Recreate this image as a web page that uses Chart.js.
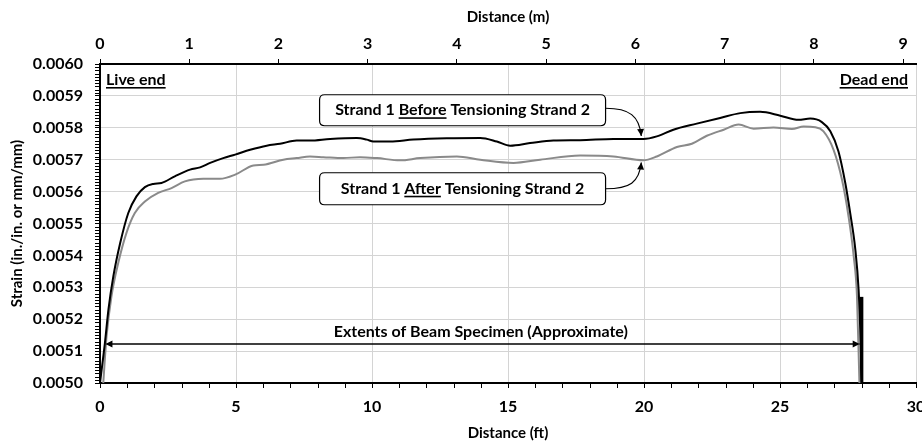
<!DOCTYPE html>
<html>
<head>
<meta charset="utf-8">
<script src="https://cdn.jsdelivr.net/npm/chart.js@4.4.1/dist/chart.umd.min.js"></script>
<style>
  html, body { margin: 0; padding: 0; background: #fff; }
  #wrap { width: 922px; height: 443px; }
</style>
</head>
<body>
<div id="wrap"><canvas id="strainChart"></canvas></div>
<script>
// Strand 1 strain along the beam, before tensioning strand 2
const beforeFt = [0, 0.18, 0.31, 0.49, 0.74, 1.04, 1.34, 1.65, 1.96, 2.26, 2.75, 3.31, 3.68, 4.05, 4.53, 4.97,
  5.52, 6.13, 6.62, 7.23, 7.72, 8.46, 9.44, 9.81, 10.05, 10.67, 11.52, 12.75, 13.98, 14.59, 15.08, 15.81,
  16.67, 17.65, 18.88, 19.98, 20.47, 21.08, 21.94, 22.8, 23.54, 24.27, 25.01, 25.68, 26.11, 26.54, 26.85,
  27.15, 27.4, 27.58, 27.77, 27.89, 27.95, 28.01];
const beforeStrain = [0.00500, 0.005125, 0.00523, 0.005334, 0.005438, 0.005533, 0.005585, 0.005614, 0.005624,
  0.005627, 0.005648, 0.005669, 0.005676, 0.00569, 0.005705, 0.005716, 0.005731, 0.005744, 0.00575, 0.00576,
  0.00576, 0.005765, 0.005768, 0.005763, 0.005757, 0.005757, 0.005763, 0.005767, 0.005768, 0.005757, 0.005744,
  0.005752, 0.00576, 0.005761, 0.005765, 0.005765, 0.005773, 0.005794, 0.005813, 0.005831, 0.005846, 0.00585,
  0.005838, 0.005825, 0.005829, 0.005818, 0.005789, 0.005726, 0.005627, 0.005533, 0.005418, 0.005292,
  0.005167, 0.00500];

// Strand 1 strain after tensioning strand 2
const afterFt = [0.12, 0.24, 0.42, 0.67, 0.97, 1.28, 1.65, 2.14, 2.63, 3.12, 3.8, 4.41, 4.97, 5.64, 6.01, 6.74,
  7.23, 7.72, 8.21, 8.95, 9.56, 10.18, 11.03, 11.77, 13.12, 13.98, 15.2, 16.18, 17.65, 18.88, 19.98, 20.47,
  21.21, 21.76, 22.31, 22.93, 23.48, 24.03, 24.76, 25.44, 25.87, 26.3, 26.6, 26.97, 27.28, 27.52, 27.71,
  27.83, 27.92];
const afterStrain = [0.00500, 0.005146, 0.005271, 0.005376, 0.00547, 0.005533, 0.005569, 0.005596, 0.005611,
  0.005632, 0.00564, 0.00564, 0.005653, 0.005682, 0.005684, 0.0057, 0.005705, 0.00571, 0.005708, 0.005705,
  0.005708, 0.005705, 0.005698, 0.005705, 0.00571, 0.0057, 0.00569, 0.0057, 0.005713, 0.00571, 0.005698,
  0.00571, 0.00574, 0.00575, 0.005775, 0.005794, 0.00581, 0.005797, 0.005801, 0.005796, 0.005804, 0.005802,
  0.005789, 0.005731, 0.005637, 0.005522, 0.005397, 0.005272, 0.00500];

// approximate length of the beam specimen, and the marker at its dead end
const extentsFt = [0.2, 27.93];
const extentsStrain = [0.005122, 0.005122];
const endBarFt = [28.0, 28.0];
const endBarStrain = [0.00500, 0.00527];

const FT_TO_M = 0.3048;
const FONT = 'Lato, "Open Sans", sans-serif';
const NOTE_FONT = 'bold 16px ' + FONT;

function toPoints(xs, ys) {
  return xs.map((x, i) => ({ x: x, y: ys[i] }));
}

function interp(xs, ys, x) {
  for (let i = 1; i < xs.length; i++) {
    if (x <= xs[i]) {
      const t = (x - xs[i - 1]) / (xs[i] - xs[i - 1]);
      return ys[i - 1] + t * (ys[i] - ys[i - 1]);
    }
  }
  return ys[ys.length - 1];
}

function arrowHead(ctx, x, y, angle, len, half) {
  ctx.save();
  ctx.translate(x, y);
  ctx.rotate(angle);
  ctx.beginPath();
  ctx.moveTo(0, 0);
  ctx.lineTo(-len, -half);
  ctx.lineTo(-len, half);
  ctx.closePath();
  ctx.fill();
  ctx.restore();
}

// text made of pieces, some of them underlined, centred on cx
function richText(ctx, parts, cx, cy) {
  const widths = parts.map(p => ctx.measureText(p.t).width);
  const total = widths.reduce((a, b) => a + b, 0);
  let x = cx - total / 2;
  ctx.textAlign = 'left';
  ctx.textBaseline = 'middle';
  parts.forEach((p, i) => {
    ctx.fillText(p.t, x, cy);
    if (p.u) ctx.fillRect(x, cy + 7, widths[i], 1.6);
    x += widths[i];
  });
}

function roundRect(ctx, x, y, w, h, r) {
  ctx.beginPath();
  ctx.moveTo(x + r, y);
  ctx.lineTo(x + w - r, y);
  ctx.quadraticCurveTo(x + w, y, x + w, y + r);
  ctx.lineTo(x + w, y + h - r);
  ctx.quadraticCurveTo(x + w, y + h, x + w - r, y + h);
  ctx.lineTo(x + r, y + h);
  ctx.quadraticCurveTo(x, y + h, x, y + h - r);
  ctx.lineTo(x, y + r);
  ctx.quadraticCurveTo(x, y, x + r, y);
  ctx.closePath();
}

// minor ticks, end labels, callouts and the extents arrow
const extrasPlugin = {
  id: 'extras',
  afterDatasetsDraw(chart) {
    const ctx = chart.ctx;
    const xs = chart.scales.x;
    const ys = chart.scales.y;
    const area = chart.chartArea;

    ctx.save();
    ctx.fillStyle = '#000';
    ctx.strokeStyle = '#000';

    // minor ticks
    ctx.lineWidth = 1;
    ctx.beginPath();
    for (let i = 0; i <= 100; i++) {
      if (i % 10 === 0) continue;
      const py = Math.round(ys.getPixelForValue(0.005 + i * 0.00001)) + 0.5;
      ctx.moveTo(area.left - 5, py);
      ctx.lineTo(area.left, py);
    }
    for (let f = 1; f < 30; f++) {
      if (f % 5 === 0) continue;
      const px = Math.round(xs.getPixelForValue(f)) + 0.5;
      ctx.moveTo(px, area.bottom);
      ctx.lineTo(px, area.bottom + 5);
    }
    ctx.stroke();

    ctx.font = NOTE_FONT;
    richText(ctx, [{ t: 'Live end', u: true }], area.left + 6 + ctx.measureText('Live end').width / 2, area.top + 16);
    richText(ctx, [{ t: 'Dead end', u: true }], area.right - 8 - ctx.measureText('Dead end').width / 2, area.top + 16);

    // extents arrow heads at both ends of the extents line
    const ext = chart.getDatasetMeta(2).data;
    arrowHead(ctx, ext[0].x, ext[0].y, Math.PI, 7, 3.5);
    arrowHead(ctx, ext[1].x, ext[1].y, 0, 7, 3.5);
    richText(ctx, [{ t: 'Extents of Beam Specimen (Approximate)' }], xs.getPixelForValue(14.0), ext[0].y - 12);

    // callout boxes pointing at the two curves near 20 ft
    const callouts = [
      { cx: 13.33, cy: 0.005855, h: 31, dy: -2, parts: [{ t: 'Strand 1 ' }, { t: 'Before', u: true }, { t: ' Tensioning Strand 2' }],
        tipFt: 19.9, tipStrain: interp(beforeFt, beforeStrain, 19.9), tipOff: -3, bend: -1 },
      { cx: 13.33, cy: 0.005609, h: 32, dy: 0, parts: [{ t: 'Strand 1 ' }, { t: 'After', u: true }, { t: ' Tensioning Strand 2' }],
        tipFt: 19.9, tipStrain: interp(afterFt, afterStrain, 19.9), tipOff: 2.5, bend: 1 }
    ];
    callouts.forEach(c => {
      const w = 286;
      const cx = xs.getPixelForValue(c.cx);
      const cy = ys.getPixelForValue(c.cy);
      ctx.fillStyle = '#fff';
      ctx.strokeStyle = '#000';
      ctx.lineWidth = 1.2;
      roundRect(ctx, cx - w / 2, cy - c.h / 2, w, c.h, 5);
      ctx.fill();
      ctx.stroke();
      ctx.fillStyle = '#000';
      ctx.font = NOTE_FONT;
      richText(ctx, c.parts, cx, cy);

      const sx = cx + w / 2;
      const sy = cy + c.dy;
      const ex = xs.getPixelForValue(c.tipFt);
      const ey = ys.getPixelForValue(c.tipStrain) + c.tipOff;
      const c2x = ex - 2;
      const c2y = ey + c.bend * 20;
      ctx.lineWidth = 1.2;
      ctx.beginPath();
      ctx.moveTo(sx, sy);
      ctx.bezierCurveTo(sx + 24, sy, c2x, c2y, ex, ey);
      ctx.stroke();
      arrowHead(ctx, ex, ey, Math.atan2(ey - c2y, ex - c2x), 7, 3.5);
    });

    ctx.restore();
  }
};

const tickFont = { family: FONT, size: 16, weight: 'bold' };
const titleFont = { family: FONT, size: 15, weight: 'bold' };

new Chart(document.getElementById('strainChart'), {
  type: 'line',
  data: {
    datasets: [
      {
        label: 'Strand 1 Before Tensioning Strand 2',
        data: toPoints(beforeFt, beforeStrain),
        borderColor: '#000',
        borderWidth: 2,
        pointRadius: 0,
        cubicInterpolationMode: 'monotone'
      },
      {
        label: 'Strand 1 After Tensioning Strand 2',
        data: toPoints(afterFt, afterStrain),
        borderColor: '#8a8a8a',
        borderWidth: 2,
        pointRadius: 0,
        cubicInterpolationMode: 'monotone'
      },
      {
        label: 'Extents of Beam Specimen',
        data: toPoints(extentsFt, extentsStrain),
        borderColor: '#000',
        borderWidth: 1.5,
        pointRadius: 0
      },
      {
        label: 'Dead end',
        data: toPoints(endBarFt, endBarStrain),
        borderColor: '#000',
        borderWidth: 3.5,
        pointRadius: 0
      }
    ]
  },
  options: {
    responsive: true,
    maintainAspectRatio: false,
    animation: false,
    layout: { padding: { left: 0, right: 6, top: 0, bottom: 0 } },
    plugins: {
      legend: { display: false },
      tooltip: { enabled: false }
    },
    scales: {
      x: {
        type: 'linear',
        position: 'bottom',
        min: 0,
        max: 30,
        ticks: { stepSize: 5, color: '#000', font: tickFont, padding: 9, maxRotation: 0 },
        grid: { color: '#d4d4d4', lineWidth: 1, tickColor: '#000', tickLength: 5 },
        border: { color: '#000', width: 2 },
        title: { display: true, text: 'Distance (ft)', color: '#000', font: titleFont, padding: { top: 0, bottom: 1 } },
        afterFit(s) { s.height = 60; s.paddingLeft = 0; s.paddingRight = 0; }
      },
      xTop: {
        type: 'linear',
        position: 'top',
        min: 0,
        max: 30 * FT_TO_M,
        ticks: { stepSize: 1, includeBounds: false, color: '#000', font: tickFont, padding: 6, maxRotation: 0 },
        grid: { drawOnChartArea: false, tickColor: '#000', tickLength: 5 },
        border: { color: '#000', width: 2 },
        title: { display: true, text: 'Distance (m)', color: '#000', font: titleFont, padding: { top: 8, bottom: 0 } },
        afterFit(s) { s.height = 64; s.paddingLeft = 0; s.paddingRight = 0; }
      },
      y: {
        min: 0.005,
        max: 0.006,
        ticks: { stepSize: 0.0001, color: '#000', font: tickFont, padding: 12, callback: v => v.toFixed(4) },
        grid: { color: '#d4d4d4', lineWidth: 1, tickColor: '#000', tickLength: 5 },
        border: { color: '#000', width: 2 },
        title: { display: true, text: 'Strain (in./in. or mm/mm)', color: '#000', font: titleFont, padding: { top: 8, bottom: 0 } },
        afterFit(s) { s.width = 100; s.paddingTop = 0; s.paddingBottom = 0; }
      }
    }
  },
  plugins: [extrasPlugin]
});
</script>
</body>
</html>
